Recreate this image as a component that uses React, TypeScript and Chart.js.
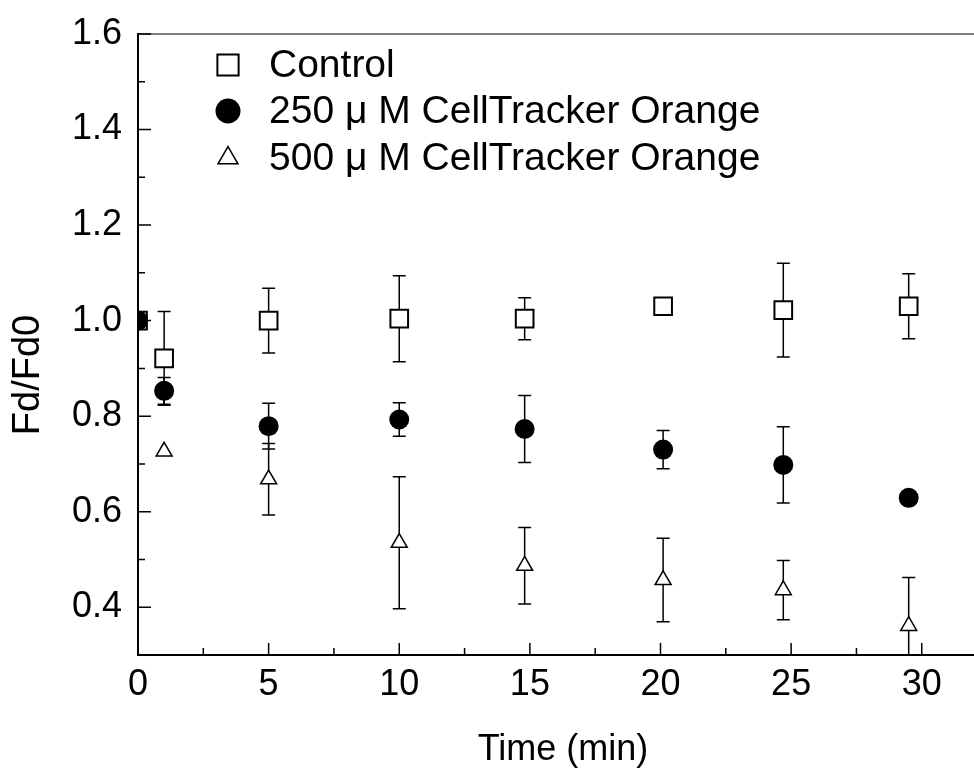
import React, { useEffect, useRef } from 'react';
import { Chart, registerables } from 'chart.js';

Chart.register(...registerables);

const FONT = "'Liberation Sans', Arial, Helvetica, sans-serif";

const seriesLabels = ['Control', '250 \u03bc M CellTracker Orange', '500 \u03bc M CellTracker Orange'];
const xTitle = 'Time (min)';
const yTitle = 'Fd/Fd0';

const controlTime = [0, 1, 5, 10, 14.8, 20.1, 24.7, 29.5];
const controlMean = [1.0, 0.921, 1.0, 1.004, 1.004, 1.03, 1.022, 1.03];
const controlErr = [0, 0.098, 0.068, 0.09, 0.044, 0.012, 0.098, 0.068];

const orange250Time = [0, 1, 5, 10, 14.8, 20.1, 24.7, 29.5];
const orange250Mean = [1.0, 0.853, 0.779, 0.793, 0.773, 0.73, 0.698, 0.629];
const orange250Err = [0, 0.028, 0.048, 0.035, 0.07, 0.04, 0.08, 0];

const orange500Time = [0, 1, 5, 10, 14.8, 20.1, 24.7, 29.5];
const orange500Mean = [1.0, 0.726, 0.668, 0.535, 0.487, 0.457, 0.436, 0.361];
const orange500Err = [0, 0, 0.075, 0.138, 0.08, 0.0875, 0.062, 0.101];

const xTickValues = [0, 5, 10, 15, 20, 25, 30];
const xMinorTicks = [2.5, 7.5, 12.5, 17.5, 22.5, 27.5];
const yTickValues = [0.4, 0.6, 0.8, 1.0, 1.2, 1.4, 1.6];
const yMinorTicks = [0.5, 0.7, 0.9, 1.1, 1.3, 1.5];

const errorSets = [controlErr, orange250Err, orange500Err];

function drawMarker(ctx: CanvasRenderingContext2D, style: string, x: number, y: number, r: number) {
  ctx.beginPath();
  if (style === 'rect') {
    const s = Math.SQRT1_2 * r;
    ctx.rect(x - s, y - s, 2 * s, 2 * s);
    ctx.fillStyle = '#fff';
    ctx.fill();
    ctx.lineWidth = 2;
    ctx.stroke();
  } else if (style === 'circle') {
    ctx.arc(x, y, r, 0, Math.PI * 2);
    ctx.fillStyle = '#000';
    ctx.fill();
  } else {
    const w = r * Math.sin(Math.PI * 2 / 3);
    ctx.moveTo(x, y - r);
    ctx.lineTo(x + w, y + r / 2);
    ctx.lineTo(x - w, y + r / 2);
    ctx.closePath();
    ctx.fillStyle = '#fff';
    ctx.fill();
    ctx.lineWidth = 1.5;
    ctx.stroke();
  }
}

const errorBarPlugin = {
  id: 'errorBars',
  beforeDatasetsDraw(chart: any) {
    const { ctx, chartArea, scales } = chart;
    ctx.save();
    ctx.beginPath();
    ctx.rect(chartArea.left, chartArea.top, chartArea.right - chartArea.left, chartArea.bottom - chartArea.top);
    ctx.clip();
    ctx.strokeStyle = '#000';
    ctx.lineWidth = 1.5;
    chart.data.datasets.forEach((ds: any, di: number) => {
      const errs = errorSets[di];
      ds.data.forEach((p: any, i: number) => {
        const e = errs[i];
        if (!e) return;
        const x = scales.x.getPixelForValue(p.x);
        const y1 = scales.y.getPixelForValue(p.y + e);
        const y2 = scales.y.getPixelForValue(p.y - e);
        ctx.beginPath();
        ctx.moveTo(x, y1);
        ctx.lineTo(x, y2);
        ctx.moveTo(x - 6.5, y1);
        ctx.lineTo(x + 6.5, y1);
        ctx.moveTo(x - 6.5, y2);
        ctx.lineTo(x + 6.5, y2);
        ctx.stroke();
      });
    });
    ctx.restore();
  },
};

const framePlugin = {
  id: 'frame',
  afterDraw(chart: any) {
    const { ctx, chartArea, scales } = chart;
    const { left, right, top, bottom } = chartArea;
    ctx.save();
    ctx.strokeStyle = '#000';
    // top border
    ctx.lineWidth = 1.2;
    ctx.beginPath();
    ctx.moveTo(left, top);
    ctx.lineTo(right, top);
    ctx.stroke();
    // inward ticks
    ctx.lineWidth = 1.5;
    ctx.beginPath();
    xTickValues.forEach((v) => {
      const x = scales.x.getPixelForValue(v);
      ctx.moveTo(x, bottom);
      ctx.lineTo(x, bottom - 12);
    });
    xMinorTicks.forEach((v) => {
      const x = scales.x.getPixelForValue(v);
      ctx.moveTo(x, bottom);
      ctx.lineTo(x, bottom - 7);
    });
    yTickValues.forEach((v) => {
      const y = scales.y.getPixelForValue(v);
      ctx.moveTo(left, y);
      ctx.lineTo(left + 13, y);
    });
    yMinorTicks.forEach((v) => {
      const y = scales.y.getPixelForValue(v);
      ctx.moveTo(left, y);
      ctx.lineTo(left + 7, y);
    });
    ctx.stroke();

    // axis titles
    ctx.fillStyle = '#000';
    ctx.textAlign = 'center';
    ctx.textBaseline = 'middle';
    ctx.font = `36px ${FONT}`;
    ctx.fillText(xTitle, left + 425, bottom + 95);
    ctx.save();
    ctx.translate(29, top + 341);
    ctx.rotate(-Math.PI / 2);
    ctx.font = `38px ${FONT}`;
    ctx.fillText(yTitle, 0, 0);
    ctx.restore();

    // legend
    const styles = ['rect', 'circle', 'triangle'];
    const radii = [15, 12.5, 11.5];
    const rowsY = [top + 31, top + 77, top + 124];
    ctx.strokeStyle = '#000';
    styles.forEach((s, i) => {
      drawMarker(ctx, s, left + 90, rowsY[i], radii[i]);
    });
    ctx.fillStyle = '#000';
    ctx.textAlign = 'left';
    ctx.textBaseline = 'middle';
    ctx.font = `39px ${FONT}`;
    seriesLabels.forEach((t, i) => {
      ctx.fillText(t, left + 131, rowsY[i] + 1);
    });
    ctx.restore();
  },
};

function makeData(xs: number[], ys: number[]) {
  return xs.map((x, i) => ({ x, y: ys[i] }));
}

export default function App() {
  const ref = useRef<HTMLCanvasElement | null>(null);
  useEffect(() => {
    document.body.style.margin = '0';
    if (!ref.current) return;
    const chart = new Chart(ref.current, {
      type: 'scatter',
      data: {
        datasets: [
          {
            label: seriesLabels[0],
            data: makeData(controlTime, controlMean),
            pointStyle: 'rect',
            pointRadius: 12.5,
            backgroundColor: '#fff',
            borderColor: '#000',
            borderWidth: 2,
            clip: 0,
            order: 1,
          } as any,
          {
            label: seriesLabels[1],
            data: makeData(orange250Time, orange250Mean),
            pointStyle: 'circle',
            pointRadius: 10,
            backgroundColor: '#000',
            borderColor: '#000',
            borderWidth: 0,
            clip: 0,
            order: 0,
          } as any,
          {
            label: seriesLabels[2],
            data: makeData(orange500Time, orange500Mean),
            pointStyle: 'triangle',
            pointRadius: 9.2,
            backgroundColor: '#fff',
            borderColor: '#000',
            borderWidth: 1.5,
            clip: 0,
            order: 2,
          } as any,
        ],
      },
      options: {
        animation: false,
        responsive: false,
        layout: { autoPadding: false, padding: { top: 34, right: 0, left: 0, bottom: 0 } },
        plugins: {
          legend: { display: false },
          tooltip: { enabled: false },
        },
        scales: {
          x: {
            type: 'linear',
            min: 0,
            max: 32,
            afterBuildTicks: (scale: any) => {
              scale.ticks = xTickValues.map((v) => ({ value: v }));
            },
            afterFit: (scale: any) => {
              scale.height = 113;
              scale.paddingLeft = 0;
              scale.paddingRight = 0;
            },
            grid: { display: false, drawTicks: false },
            border: { display: true, color: '#000', width: 2 },
            ticks: {
              color: '#000',
              font: { family: FONT, size: 36 },
              padding: 8,
              maxRotation: 0,
              autoSkip: false,
              callback: (v: any) => String(v),
            },
          },
          y: {
            type: 'linear',
            min: 0.3,
            max: 1.6,
            afterBuildTicks: (scale: any) => {
              scale.ticks = yTickValues.map((v) => ({ value: v }));
            },
            afterFit: (scale: any) => {
              scale.width = 138;
              scale.paddingTop = 0;
              scale.paddingBottom = 0;
            },
            grid: { display: false, drawTicks: false },
            border: { display: true, color: '#000', width: 2 },
            ticks: {
              color: '#000',
              font: { family: FONT, size: 36 },
              padding: 16,
              autoSkip: false,
              callback: (v: any) => Number(v).toFixed(1),
            },
          },
        },
      },
      plugins: [errorBarPlugin, framePlugin],
    });
    return () => chart.destroy();
  }, []);
  return (
    <div style={{ width: 974, height: 768 }}>
      <canvas ref={ref} width={974} height={768} style={{ display: 'block' }} />
    </div>
  );
}
